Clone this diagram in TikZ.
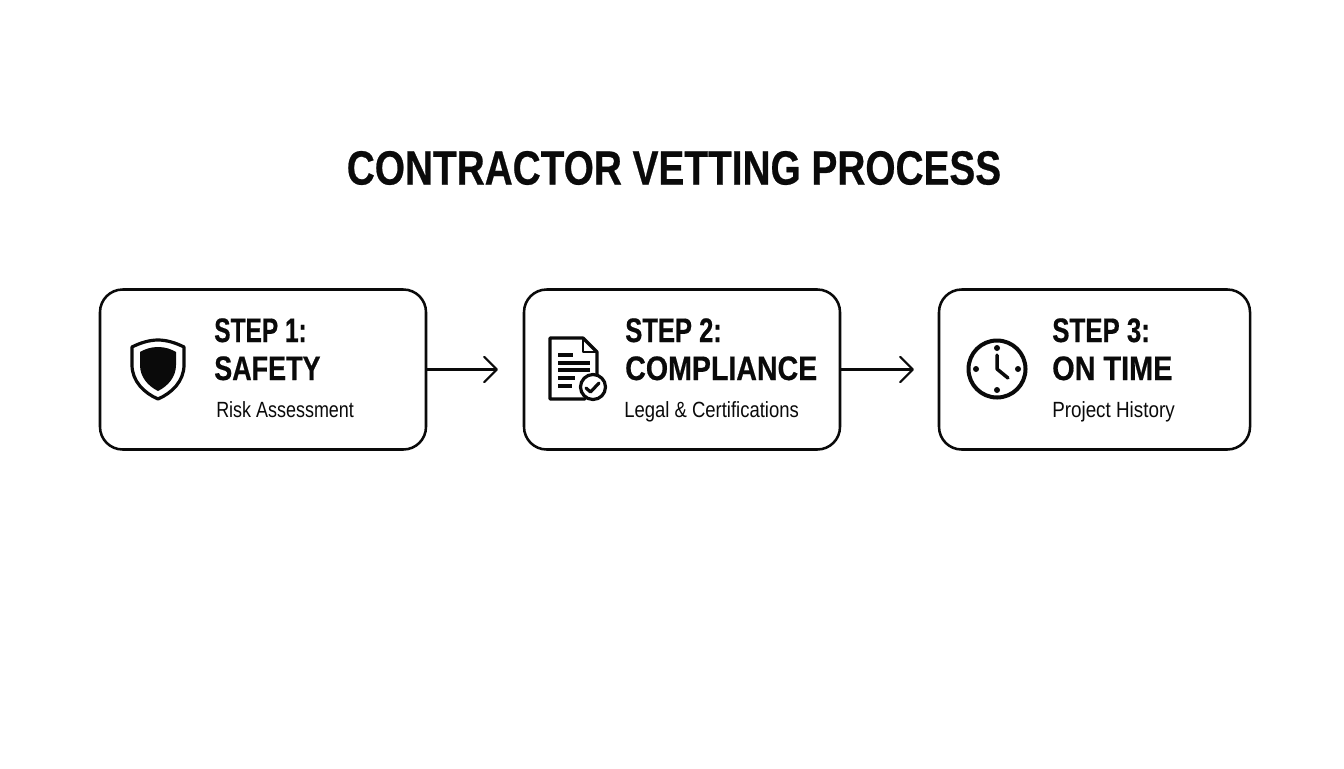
\documentclass[tikz,border=0pt]{standalone}
\usepackage{fontspec}
\usepackage{graphicx}
\setmainfont{Liberation Sans}
\newfontfamily\hdfont[FakeStretch=0.80,BoldFont={Liberation Sans Bold},BoldFeatures={FakeBold=0.5}]{Liberation Sans}
\newfontfamily\subfont[FakeStretch=0.80]{Liberation Sans}
\newcommand{\wide}[2]{\scalebox{#1}[1]{#2}}
\usetikzlibrary{arrows.meta}
\definecolor{ink}{HTML}{0A0A0A}
\tikzset{
  x=0.75pt,y=-0.75pt,
  card/.style={draw=ink,line width=1.9pt,rounded corners=17pt,fill=white,minimum height=120pt,inner sep=0pt},
  flow/.style={draw=ink,line width=1.7pt,-{Straight Barb[length=9.5pt,width=19pt,line width=1.7pt,round]}},
  title/.style={anchor=center,text=ink,font=\hdfont\bfseries\fontsize{36}{40}\selectfont,inner sep=0pt},
  head/.style={anchor=base west,text=ink,font=\hdfont\bfseries\fontsize{25.5}{28}\selectfont,inner sep=0pt},
  sub/.style={anchor=base west,text=ink,font=\subfont\fontsize{16.5}{19}\selectfont,inner sep=0pt},
  icon/.style={draw=ink,line width=2.4pt,line join=round,line cap=round},
}
\begin{document}
\begin{tikzpicture}
\useasboundingbox[fill=white] (0,0) rectangle (1344,768);
\node[title] (t) at (674,168) {\wide{1.01}{CONTRACTOR VETTING PROCESS}};

\node[card,minimum width=244.5pt] (b1) at (263,369.5) {};
\node[card,minimum width=237pt] (b2) at (682,369.5) {};
\node[card,minimum width=233.25pt] (b3) at (1094.5,369.5) {};

\coordinate (e1) at (498,369.5);
\coordinate (e2) at (914,369.5);
\draw[flow] (b1.east) -- (e1);
\draw[flow] (b2.east) -- (e2);

% step 1
\node[head] (h1a) at (214,342) {\wide{0.90}{STEP 1:}};
\node[head] (h1b) at (214,380) {\wide{0.99}{SAFETY}};
\node[sub] (s1) at (216,417) {\wide{1.02}{Risk Assessment}};
% step 2
\node[head] (h2a) at (625,342) {\wide{0.94}{STEP 2:}};
\node[head] (h2b) at (625,380) {\wide{1.05}{COMPLIANCE}};
\node[sub] (s2) at (624,417) {\wide{1.05}{Legal \& Certifications}};
% step 3
\node[head] (h3a) at (1052,342) {\wide{0.95}{STEP 3:}};
\node[head] (h3b) at (1052,380) {\wide{1.06}{ON TIME}};
\node[sub] (s3) at (1052,417) {\wide{1.07}{Project History}};

% shield
\draw[icon] (158,340) .. controls (149,340) and (140,343) .. (132,347)
  -- (132,365) .. controls (132,381) and (144,393) .. (158,399)
  .. controls (172,393) and (184,381) .. (184,365) -- (184,347)
  .. controls (176,343) and (167,340) .. (158,340) -- cycle;
\fill[ink] (158,347) .. controls (151,347) and (145,349) .. (140,352)
  -- (140,365) .. controls (140,377) and (148,386) .. (158,391)
  .. controls (168,386) and (176,377) .. (176,365) -- (176,352)
  .. controls (171,349) and (165,347) .. (158,347) -- cycle;

% document
\draw[icon] (597,376) -- (597,352) -- (583,338) -- (550,338) -- (550,399) -- (585,399);
\draw[icon,line width=1.7pt] (583,338) -- (583,352) -- (597,352);
\foreach \yy/\xx in {355/573,363/590,370/590,378/575,386/572}
  \draw[icon,line cap=butt] (558,\yy) -- (\xx,\yy);
\draw[icon,fill=white] (593,387) circle[radius=12.5];
\draw[icon] (586,388) -- (590.5,392) -- (599,383);

% clock
\draw[icon,line width=3pt] (997,369) circle[radius=28.5];
\foreach \cx/\cy in {997/348,1018/369,997/390,976/369}
  \fill[ink] (\cx,\cy) circle[radius=3];
\draw[icon,line width=2.6pt] (997,355) -- (997,369) -- (1008,378);
\end{tikzpicture}
\end{document}
